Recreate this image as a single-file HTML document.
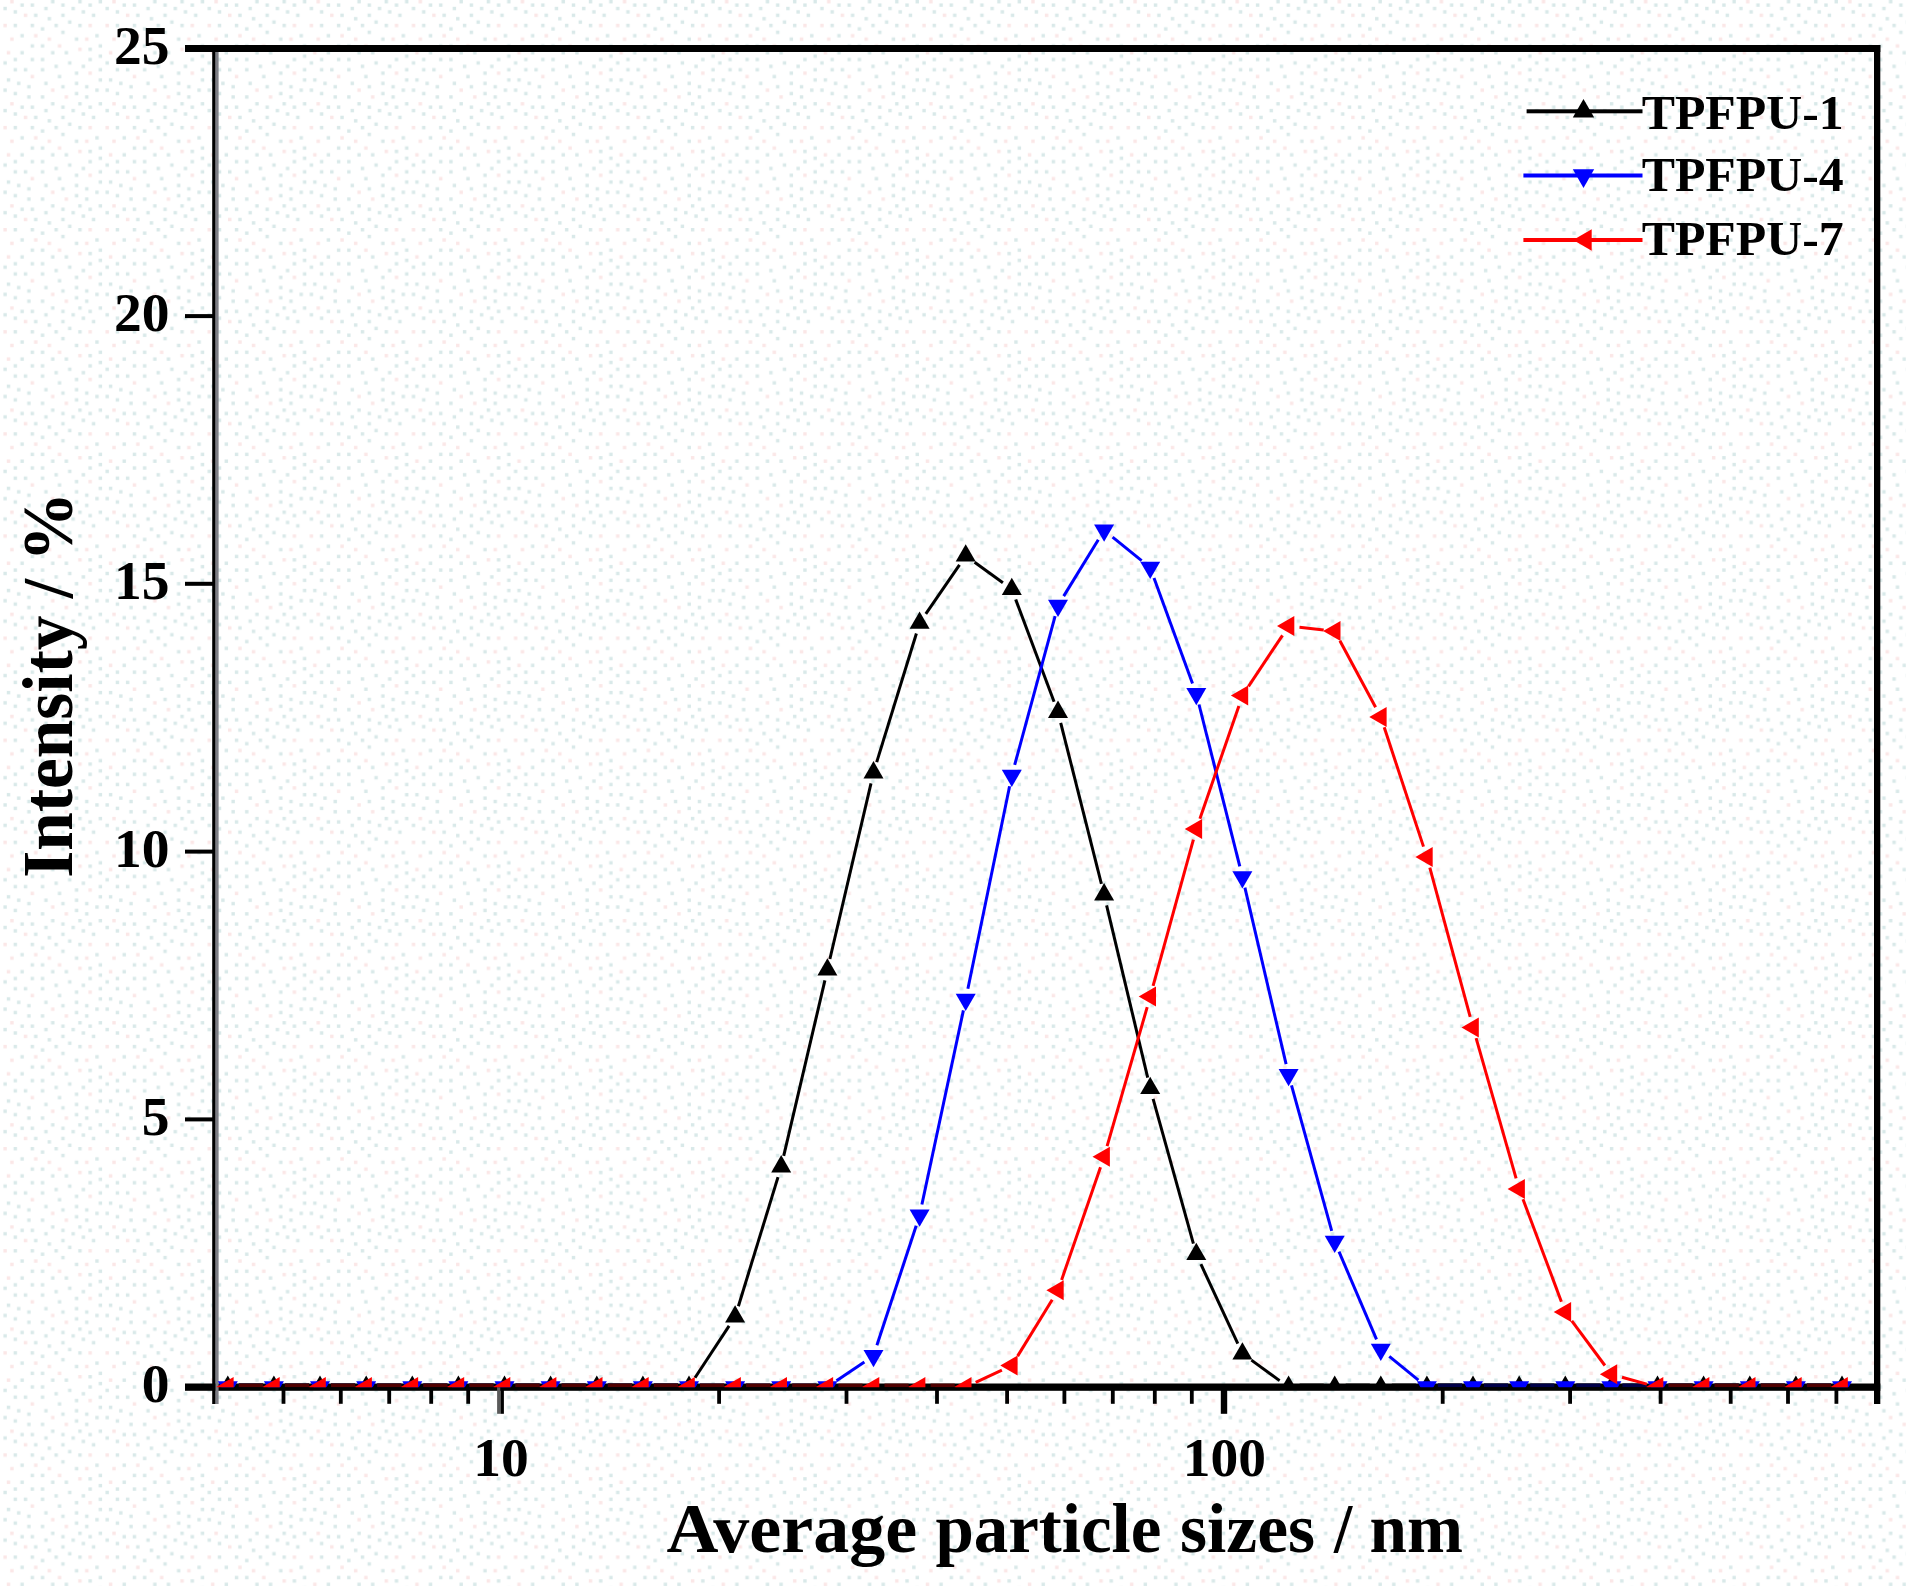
<!DOCTYPE html>
<html><head><meta charset="utf-8"><title>Particle size distribution</title>
<style>html,body{margin:0;padding:0;background:#fcfdfd;}body{width:1906px;height:1586px;overflow:hidden}svg{display:block}</style>
</head><body>
<svg width="1906" height="1586" viewBox="0 0 1906 1586">
<defs><pattern id="dz" width="102.108" height="102.108" patternUnits="userSpaceOnUse"><rect width="102.108" height="102.108" fill="#ffffff"/><rect x="34.04" y="13.61" width="3.40" height="3.40" fill="#d9e9e9"/><rect x="40.84" y="68.07" width="3.40" height="3.40" fill="#d9e9e9"/><rect x="3.40" y="6.81" width="3.40" height="3.40" fill="#d9e9e9"/><rect x="88.49" y="57.86" width="3.40" height="3.40" fill="#d9e9e9"/><rect x="10.21" y="37.44" width="3.40" height="3.40" fill="#fbe7e7"/><rect x="61.26" y="3.40" width="3.40" height="3.40" fill="#d9e9e9"/><rect x="98.70" y="54.46" width="3.40" height="3.40" fill="#d9e9e9"/><rect x="20.42" y="3.40" width="3.40" height="3.40" fill="#d9e9e9"/><rect x="44.25" y="6.81" width="3.40" height="3.40" fill="#d9e9e9"/><rect x="57.86" y="44.25" width="3.40" height="3.40" fill="#fbe7e7"/><rect x="3.40" y="88.49" width="3.40" height="3.40" fill="#d9e9e9"/><rect x="23.83" y="68.07" width="3.40" height="3.40" fill="#d9e9e9"/><rect x="68.07" y="61.26" width="3.40" height="3.40" fill="#d9e9e9"/><rect x="3.40" y="61.26" width="3.40" height="3.40" fill="#d9e9e9"/><rect x="3.40" y="23.83" width="3.40" height="3.40" fill="#fbe7e7"/><rect x="91.90" y="13.61" width="3.40" height="3.40" fill="#d9e9e9"/><rect x="30.63" y="44.25" width="3.40" height="3.40" fill="#d9e9e9"/><rect x="13.61" y="57.86" width="3.40" height="3.40" fill="#d9e9e9"/><rect x="30.63" y="57.86" width="3.40" height="3.40" fill="#d9e9e9"/><rect x="88.49" y="71.48" width="3.40" height="3.40" fill="#fbe7e7"/><rect x="68.07" y="20.42" width="3.40" height="3.40" fill="#d9e9e9"/><rect x="57.86" y="74.88" width="3.40" height="3.40" fill="#d9e9e9"/><rect x="20.42" y="51.05" width="3.40" height="3.40" fill="#d9e9e9"/><rect x="44.25" y="81.69" width="3.40" height="3.40" fill="#d9e9e9"/><rect x="47.65" y="37.44" width="3.40" height="3.40" fill="#fbe7e7"/><rect x="30.63" y="23.83" width="3.40" height="3.40" fill="#d9e9e9"/><rect x="74.88" y="81.69" width="3.40" height="3.40" fill="#d9e9e9"/><rect x="61.26" y="30.63" width="3.40" height="3.40" fill="#d9e9e9"/><rect x="95.30" y="34.04" width="3.40" height="3.40" fill="#d9e9e9"/><rect x="78.28" y="47.65" width="3.40" height="3.40" fill="#fbe7e7"/><rect x="17.02" y="81.69" width="3.40" height="3.40" fill="#d9e9e9"/><rect x="71.48" y="6.81" width="3.40" height="3.40" fill="#d9e9e9"/><rect x="61.26" y="85.09" width="3.40" height="3.40" fill="#d9e9e9"/><rect x="95.30" y="88.49" width="3.40" height="3.40" fill="#d9e9e9"/><rect x="34.04" y="34.04" width="3.40" height="3.40" fill="#fbe7e7"/><rect x="74.88" y="37.44" width="3.40" height="3.40" fill="#d9e9e9"/><rect x="64.67" y="51.05" width="3.40" height="3.40" fill="#d9e9e9"/><rect x="74.88" y="71.48" width="3.40" height="3.40" fill="#d9e9e9"/><rect x="88.49" y="47.65" width="3.40" height="3.40" fill="#d9e9e9"/><rect x="30.63" y="74.88" width="3.40" height="3.40" fill="#fbe7e7"/><rect x="40.84" y="95.30" width="3.40" height="3.40" fill="#d9e9e9"/><rect x="78.28" y="23.83" width="3.40" height="3.40" fill="#d9e9e9"/><rect x="40.84" y="57.86" width="3.40" height="3.40" fill="#d9e9e9"/><rect x="27.23" y="95.30" width="3.40" height="3.40" fill="#d9e9e9"/><rect x="23.83" y="13.61" width="3.40" height="3.40" fill="#fbe7e7"/><rect x="13.61" y="23.83" width="3.40" height="3.40" fill="#d9e9e9"/><rect x="74.88" y="91.90" width="3.40" height="3.40" fill="#d9e9e9"/><rect x="54.46" y="64.67" width="3.40" height="3.40" fill="#d9e9e9"/><rect x="47.65" y="17.02" width="3.40" height="3.40" fill="#d9e9e9"/><rect x="10.21" y="0.00" width="3.40" height="3.40" fill="#fbe7e7"/><rect x="61.26" y="13.61" width="3.40" height="3.40" fill="#d9e9e9"/><rect x="13.61" y="68.07" width="3.40" height="3.40" fill="#d9e9e9"/><rect x="51.05" y="51.05" width="3.40" height="3.40" fill="#d9e9e9"/><rect x="13.61" y="10.21" width="3.40" height="3.40" fill="#d9e9e9"/><rect x="51.05" y="88.49" width="3.40" height="3.40" fill="#fbe7e7"/><rect x="98.70" y="0.00" width="3.40" height="3.40" fill="#d9e9e9"/><rect x="85.09" y="85.09" width="3.40" height="3.40" fill="#d9e9e9"/><rect x="78.28" y="0.00" width="3.40" height="3.40" fill="#d9e9e9"/><rect x="20.42" y="34.04" width="3.40" height="3.40" fill="#d9e9e9"/><rect x="64.67" y="95.30" width="3.40" height="3.40" fill="#fbe7e7"/><rect x="98.70" y="68.07" width="3.40" height="3.40" fill="#d9e9e9"/><rect x="98.70" y="78.28" width="3.40" height="3.40" fill="#d9e9e9"/><rect x="81.69" y="10.21" width="3.40" height="3.40" fill="#d9e9e9"/><rect x="54.46" y="23.83" width="3.40" height="3.40" fill="#d9e9e9"/><rect x="88.49" y="23.83" width="3.40" height="3.40" fill="#fbe7e7"/><rect x="6.81" y="78.28" width="3.40" height="3.40" fill="#d9e9e9"/><rect x="30.63" y="3.40" width="3.40" height="3.40" fill="#d9e9e9"/><rect x="85.09" y="95.30" width="3.40" height="3.40" fill="#d9e9e9"/><rect x="27.23" y="85.09" width="3.40" height="3.40" fill="#d9e9e9"/><rect x="6.81" y="51.05" width="3.40" height="3.40" fill="#fbe7e7"/><rect x="40.84" y="44.25" width="3.40" height="3.40" fill="#d9e9e9"/><rect x="51.05" y="0.00" width="3.40" height="3.40" fill="#d9e9e9"/><rect x="40.84" y="27.23" width="3.40" height="3.40" fill="#d9e9e9"/><rect x="98.70" y="44.25" width="3.40" height="3.40" fill="#d9e9e9"/><rect x="85.09" y="37.44" width="3.40" height="3.40" fill="#fbe7e7"/><rect x="88.49" y="3.40" width="3.40" height="3.40" fill="#d9e9e9"/><rect x="81.69" y="64.67" width="3.40" height="3.40" fill="#d9e9e9"/><rect x="13.61" y="91.90" width="3.40" height="3.40" fill="#d9e9e9"/></pattern></defs>
<rect width="1906" height="1586" fill="url(#dz)"/>
<defs><clipPath id="pc"><rect x="212" y="48" width="1668" height="1339.2"/></clipPath></defs>
<g fill="#000">
<rect x="185" y="45" width="1695.3" height="7"/>
<rect x="185" y="1383.5" width="1695.3" height="7.3"/>
<rect x="212.2" y="45" width="3.5" height="1359"/>
<rect x="215.5" y="52" width="3.1" height="1352" fill="#7c7d84"/>
<rect x="1874" y="45" width="6.3" height="1359"/>
<rect x="185" y="314.1" width="28" height="4"/>
<rect x="185" y="581.8" width="28" height="4"/>
<rect x="185" y="849.6" width="28" height="4"/>
<rect x="185" y="1117.4" width="28" height="4"/>
<rect x="497.1" y="1387" width="3.4" height="26.8" fill="#5a5a5a"/>
<rect x="500.5" y="1387" width="3.4" height="26.8"/>
<rect x="1220.8" y="1387" width="6.4" height="26.8"/>
<rect x="281.6" y="1387" width="3.8" height="16.8"/>
<rect x="338.9" y="1387" width="3.8" height="16.8"/>
<rect x="387.3" y="1387" width="3.8" height="16.8"/>
<rect x="429.3" y="1387" width="3.8" height="16.8"/>
<rect x="466.3" y="1387" width="3.8" height="16.8"/>
<rect x="717.2" y="1387" width="3.8" height="16.8"/>
<rect x="844.6" y="1387" width="3.8" height="16.8"/>
<rect x="935.1" y="1387" width="3.8" height="16.8"/>
<rect x="1005.2" y="1387" width="3.8" height="16.8"/>
<rect x="1062.5" y="1387" width="3.8" height="16.8"/>
<rect x="1110.9" y="1387" width="3.8" height="16.8"/>
<rect x="1152.9" y="1387" width="3.8" height="16.8"/>
<rect x="1189.9" y="1387" width="3.8" height="16.8"/>
<rect x="1440.8" y="1387" width="3.8" height="16.8"/>
<rect x="1568.2" y="1387" width="3.8" height="16.8"/>
<rect x="1658.7" y="1387" width="3.8" height="16.8"/>
<rect x="1728.8" y="1387" width="3.8" height="16.8"/>
<rect x="1786.1" y="1387" width="3.8" height="16.8"/>
<rect x="1834.5" y="1387" width="3.8" height="16.8"/>
</g>
<g clip-path="url(#pc)">
<rect x="238.8" y="1383.6" width="24.1" height="3.6" fill="#000000"/>
<rect x="284.9" y="1383.6" width="24.1" height="3.6" fill="#000000"/>
<rect x="331.0" y="1383.6" width="24.1" height="3.6" fill="#000000"/>
<rect x="377.2" y="1383.6" width="24.1" height="3.6" fill="#000000"/>
<rect x="423.3" y="1383.6" width="24.1" height="3.6" fill="#000000"/>
<rect x="469.4" y="1383.6" width="24.1" height="3.6" fill="#000000"/>
<rect x="515.5" y="1383.6" width="24.1" height="3.6" fill="#000000"/>
<rect x="561.6" y="1383.6" width="24.1" height="3.6" fill="#000000"/>
<rect x="607.8" y="1383.6" width="24.1" height="3.6" fill="#000000"/>
<rect x="653.9" y="1383.6" width="24.1" height="3.6" fill="#000000"/>
<line x1="695.0" y1="1377.8" x2="729.1" y2="1325.9" stroke="#000000" stroke-width="3.0"/>
<line x1="738.4" y1="1306.2" x2="778.0" y2="1177.1" stroke="#000000" stroke-width="3.0"/>
<line x1="783.7" y1="1155.9" x2="824.9" y2="980.4" stroke="#000000" stroke-width="3.0"/>
<line x1="829.9" y1="959.0" x2="871.0" y2="783.3" stroke="#000000" stroke-width="3.0"/>
<line x1="876.7" y1="762.1" x2="916.4" y2="633.5" stroke="#000000" stroke-width="3.0"/>
<line x1="925.8" y1="613.9" x2="959.5" y2="564.8" stroke="#000000" stroke-width="3.0"/>
<line x1="974.6" y1="562.2" x2="1002.9" y2="582.7" stroke="#000000" stroke-width="3.0"/>
<line x1="1015.7" y1="599.5" x2="1054.1" y2="701.8" stroke="#000000" stroke-width="3.0"/>
<line x1="1060.7" y1="722.8" x2="1101.4" y2="883.9" stroke="#000000" stroke-width="3.0"/>
<line x1="1106.6" y1="905.3" x2="1147.7" y2="1077.6" stroke="#000000" stroke-width="3.0"/>
<line x1="1153.1" y1="1098.9" x2="1193.4" y2="1243.6" stroke="#000000" stroke-width="3.0"/>
<line x1="1200.9" y1="1264.2" x2="1237.8" y2="1343.7" stroke="#000000" stroke-width="3.0"/>
<line x1="1251.4" y1="1360.1" x2="1279.6" y2="1380.6" stroke="#000000" stroke-width="3.0"/>
<rect x="1299.6" y="1383.6" width="24.1" height="3.6" fill="#000000"/>
<rect x="1345.7" y="1383.6" width="24.1" height="3.6" fill="#000000"/>
<rect x="1391.8" y="1383.6" width="24.1" height="3.6" fill="#000000"/>
<rect x="1437.9" y="1383.6" width="24.1" height="3.6" fill="#000000"/>
<rect x="1484.0" y="1383.6" width="24.1" height="3.6" fill="#000000"/>
<rect x="1530.2" y="1383.6" width="24.1" height="3.6" fill="#000000"/>
<rect x="1576.3" y="1383.6" width="24.1" height="3.6" fill="#000000"/>
<rect x="1622.4" y="1383.6" width="24.1" height="3.6" fill="#000000"/>
<rect x="1668.5" y="1383.6" width="24.1" height="3.6" fill="#000000"/>
<rect x="1714.6" y="1383.6" width="24.1" height="3.6" fill="#000000"/>
<rect x="1760.8" y="1383.6" width="24.1" height="3.6" fill="#000000"/>
<rect x="1806.9" y="1383.6" width="24.1" height="3.6" fill="#000000"/>
<polygon points="227.8,1375.5 217.8,1392.8 237.8,1392.8" fill="#000000"/>
<polygon points="273.9,1375.5 263.9,1392.8 283.9,1392.8" fill="#000000"/>
<polygon points="320.0,1375.5 310.0,1392.8 330.0,1392.8" fill="#000000"/>
<polygon points="366.2,1375.5 356.2,1392.8 376.2,1392.8" fill="#000000"/>
<polygon points="412.3,1375.5 402.3,1392.8 422.3,1392.8" fill="#000000"/>
<polygon points="458.4,1375.5 448.4,1392.8 468.4,1392.8" fill="#000000"/>
<polygon points="504.5,1375.5 494.5,1392.8 514.5,1392.8" fill="#000000"/>
<polygon points="550.6,1375.5 540.6,1392.8 560.6,1392.8" fill="#000000"/>
<polygon points="596.8,1375.5 586.8,1392.8 606.8,1392.8" fill="#000000"/>
<polygon points="642.9,1375.5 632.9,1392.8 652.9,1392.8" fill="#000000"/>
<polygon points="689.0,1375.5 679.0,1392.8 699.0,1392.8" fill="#000000"/>
<polygon points="735.1,1305.2 725.1,1322.5 745.1,1322.5" fill="#000000"/>
<polygon points="781.2,1155.1 771.2,1172.4 791.2,1172.4" fill="#000000"/>
<polygon points="827.4,958.2 817.4,975.5 837.4,975.5" fill="#000000"/>
<polygon points="873.5,761.1 863.5,778.4 883.5,778.4" fill="#000000"/>
<polygon points="919.6,611.5 909.6,628.8 929.6,628.8" fill="#000000"/>
<polygon points="965.7,544.2 955.7,561.5 975.7,561.5" fill="#000000"/>
<polygon points="1011.8,577.7 1001.8,595.0 1021.8,595.0" fill="#000000"/>
<polygon points="1058.0,700.6 1048.0,717.9 1068.0,717.9" fill="#000000"/>
<polygon points="1104.1,883.1 1094.1,900.4 1114.1,900.4" fill="#000000"/>
<polygon points="1150.2,1076.8 1140.2,1094.1 1160.2,1094.1" fill="#000000"/>
<polygon points="1196.3,1242.7 1186.3,1260.0 1206.3,1260.0" fill="#000000"/>
<polygon points="1242.4,1342.2 1232.4,1359.5 1252.4,1359.5" fill="#000000"/>
<polygon points="1288.6,1375.5 1278.6,1392.8 1298.6,1392.8" fill="#000000"/>
<polygon points="1334.7,1375.5 1324.7,1392.8 1344.7,1392.8" fill="#000000"/>
<polygon points="1380.8,1375.5 1370.8,1392.8 1390.8,1392.8" fill="#000000"/>
<polygon points="1426.9,1375.5 1416.9,1392.8 1436.9,1392.8" fill="#000000"/>
<polygon points="1473.0,1375.5 1463.0,1392.8 1483.0,1392.8" fill="#000000"/>
<polygon points="1519.2,1375.5 1509.2,1392.8 1529.2,1392.8" fill="#000000"/>
<polygon points="1565.3,1375.5 1555.3,1392.8 1575.3,1392.8" fill="#000000"/>
<polygon points="1611.4,1375.5 1601.4,1392.8 1621.4,1392.8" fill="#000000"/>
<polygon points="1657.5,1375.5 1647.5,1392.8 1667.5,1392.8" fill="#000000"/>
<polygon points="1703.6,1375.5 1693.6,1392.8 1713.6,1392.8" fill="#000000"/>
<polygon points="1749.8,1375.5 1739.8,1392.8 1759.8,1392.8" fill="#000000"/>
<polygon points="1795.9,1375.5 1785.9,1392.8 1805.9,1392.8" fill="#000000"/>
<polygon points="1842.0,1375.5 1832.0,1392.8 1852.0,1392.8" fill="#000000"/>
<rect x="238.8" y="1383.6" width="24.1" height="3.6" fill="#000048"/>
<rect x="284.9" y="1383.6" width="24.1" height="3.6" fill="#000048"/>
<rect x="331.0" y="1383.6" width="24.1" height="3.6" fill="#000048"/>
<rect x="377.2" y="1383.6" width="24.1" height="3.6" fill="#000048"/>
<rect x="423.3" y="1383.6" width="24.1" height="3.6" fill="#000048"/>
<rect x="469.4" y="1383.6" width="24.1" height="3.6" fill="#000048"/>
<rect x="515.5" y="1383.6" width="24.1" height="3.6" fill="#000048"/>
<rect x="561.6" y="1383.6" width="24.1" height="3.6" fill="#000048"/>
<rect x="607.8" y="1383.6" width="24.1" height="3.6" fill="#000048"/>
<rect x="653.9" y="1383.6" width="24.1" height="3.6" fill="#000048"/>
<rect x="700.0" y="1383.6" width="24.1" height="3.6" fill="#000048"/>
<rect x="746.1" y="1383.6" width="24.1" height="3.6" fill="#000048"/>
<rect x="792.2" y="1383.6" width="24.1" height="3.6" fill="#000048"/>
<line x1="836.5" y1="1380.8" x2="864.4" y2="1362.0" stroke="#0000ff" stroke-width="3.0"/>
<line x1="876.9" y1="1345.3" x2="916.2" y2="1225.8" stroke="#0000ff" stroke-width="3.0"/>
<line x1="921.9" y1="1204.5" x2="963.4" y2="1010.4" stroke="#0000ff" stroke-width="3.0"/>
<line x1="967.9" y1="988.8" x2="1009.6" y2="786.3" stroke="#0000ff" stroke-width="3.0"/>
<line x1="1014.7" y1="764.9" x2="1055.1" y2="616.1" stroke="#0000ff" stroke-width="3.0"/>
<line x1="1063.7" y1="596.1" x2="1098.3" y2="539.7" stroke="#0000ff" stroke-width="3.0"/>
<line x1="1112.6" y1="537.2" x2="1141.6" y2="560.7" stroke="#0000ff" stroke-width="3.0"/>
<line x1="1154.0" y1="577.9" x2="1192.5" y2="683.5" stroke="#0000ff" stroke-width="3.0"/>
<line x1="1199.0" y1="704.5" x2="1239.8" y2="866.3" stroke="#0000ff" stroke-width="3.0"/>
<line x1="1244.9" y1="887.7" x2="1286.1" y2="1064.1" stroke="#0000ff" stroke-width="3.0"/>
<line x1="1291.5" y1="1085.4" x2="1331.7" y2="1230.9" stroke="#0000ff" stroke-width="3.0"/>
<line x1="1339.0" y1="1251.6" x2="1376.5" y2="1339.4" stroke="#0000ff" stroke-width="3.0"/>
<line x1="1389.3" y1="1356.4" x2="1418.4" y2="1380.1" stroke="#0000ff" stroke-width="3.0"/>
<rect x="1437.9" y="1383.6" width="24.1" height="3.6" fill="#000048"/>
<rect x="1484.0" y="1383.6" width="24.1" height="3.6" fill="#000048"/>
<rect x="1530.2" y="1383.6" width="24.1" height="3.6" fill="#000048"/>
<rect x="1576.3" y="1383.6" width="24.1" height="3.6" fill="#000048"/>
<rect x="1622.4" y="1383.6" width="24.1" height="3.6" fill="#000048"/>
<rect x="1668.5" y="1383.6" width="24.1" height="3.6" fill="#000048"/>
<rect x="1714.6" y="1383.6" width="24.1" height="3.6" fill="#000048"/>
<rect x="1760.8" y="1383.6" width="24.1" height="3.6" fill="#000048"/>
<rect x="1806.9" y="1383.6" width="24.1" height="3.6" fill="#000048"/>
<polygon points="227.8,1398.5 217.8,1381.2 237.8,1381.2" fill="#0000ff"/>
<polygon points="273.9,1398.5 263.9,1381.2 283.9,1381.2" fill="#0000ff"/>
<polygon points="320.0,1398.5 310.0,1381.2 330.0,1381.2" fill="#0000ff"/>
<polygon points="366.2,1398.5 356.2,1381.2 376.2,1381.2" fill="#0000ff"/>
<polygon points="412.3,1398.5 402.3,1381.2 422.3,1381.2" fill="#0000ff"/>
<polygon points="458.4,1398.5 448.4,1381.2 468.4,1381.2" fill="#0000ff"/>
<polygon points="504.5,1398.5 494.5,1381.2 514.5,1381.2" fill="#0000ff"/>
<polygon points="550.6,1398.5 540.6,1381.2 560.6,1381.2" fill="#0000ff"/>
<polygon points="596.8,1398.5 586.8,1381.2 606.8,1381.2" fill="#0000ff"/>
<polygon points="642.9,1398.5 632.9,1381.2 652.9,1381.2" fill="#0000ff"/>
<polygon points="689.0,1398.5 679.0,1381.2 699.0,1381.2" fill="#0000ff"/>
<polygon points="735.1,1398.5 725.1,1381.2 745.1,1381.2" fill="#0000ff"/>
<polygon points="781.2,1398.5 771.2,1381.2 791.2,1381.2" fill="#0000ff"/>
<polygon points="827.4,1398.5 817.4,1381.2 837.4,1381.2" fill="#0000ff"/>
<polygon points="873.5,1367.3 863.5,1350.0 883.5,1350.0" fill="#0000ff"/>
<polygon points="919.6,1226.8 909.6,1209.5 929.6,1209.5" fill="#0000ff"/>
<polygon points="965.7,1011.1 955.7,993.8 975.7,993.8" fill="#0000ff"/>
<polygon points="1011.8,787.0 1001.8,769.7 1021.8,769.7" fill="#0000ff"/>
<polygon points="1058.0,617.0 1048.0,599.7 1068.0,599.7" fill="#0000ff"/>
<polygon points="1104.1,541.8 1094.1,524.5 1114.1,524.5" fill="#0000ff"/>
<polygon points="1150.2,579.1 1140.2,561.8 1160.2,561.8" fill="#0000ff"/>
<polygon points="1196.3,705.3 1186.3,688.0 1206.3,688.0" fill="#0000ff"/>
<polygon points="1242.4,888.5 1232.4,871.2 1252.4,871.2" fill="#0000ff"/>
<polygon points="1288.6,1086.3 1278.6,1069.0 1298.6,1069.0" fill="#0000ff"/>
<polygon points="1334.7,1253.0 1324.7,1235.7 1344.7,1235.7" fill="#0000ff"/>
<polygon points="1380.8,1361.0 1370.8,1343.7 1390.8,1343.7" fill="#0000ff"/>
<polygon points="1426.9,1398.5 1416.9,1381.2 1436.9,1381.2" fill="#0000ff"/>
<polygon points="1473.0,1398.5 1463.0,1381.2 1483.0,1381.2" fill="#0000ff"/>
<polygon points="1519.2,1398.5 1509.2,1381.2 1529.2,1381.2" fill="#0000ff"/>
<polygon points="1565.3,1398.5 1555.3,1381.2 1575.3,1381.2" fill="#0000ff"/>
<polygon points="1611.4,1398.5 1601.4,1381.2 1621.4,1381.2" fill="#0000ff"/>
<polygon points="1657.5,1398.5 1647.5,1381.2 1667.5,1381.2" fill="#0000ff"/>
<polygon points="1703.6,1398.5 1693.6,1381.2 1713.6,1381.2" fill="#0000ff"/>
<polygon points="1749.8,1398.5 1739.8,1381.2 1759.8,1381.2" fill="#0000ff"/>
<polygon points="1795.9,1398.5 1785.9,1381.2 1805.9,1381.2" fill="#0000ff"/>
<polygon points="1842.0,1398.5 1832.0,1381.2 1852.0,1381.2" fill="#0000ff"/>
<rect x="238.8" y="1383.6" width="24.1" height="3.6" fill="#500000"/>
<rect x="284.9" y="1383.6" width="24.1" height="3.6" fill="#500000"/>
<rect x="331.0" y="1383.6" width="24.1" height="3.6" fill="#500000"/>
<rect x="377.2" y="1383.6" width="24.1" height="3.6" fill="#500000"/>
<rect x="423.3" y="1383.6" width="24.1" height="3.6" fill="#500000"/>
<rect x="469.4" y="1383.6" width="24.1" height="3.6" fill="#500000"/>
<rect x="515.5" y="1383.6" width="24.1" height="3.6" fill="#500000"/>
<rect x="561.6" y="1383.6" width="24.1" height="3.6" fill="#500000"/>
<rect x="607.8" y="1383.6" width="24.1" height="3.6" fill="#500000"/>
<rect x="653.9" y="1383.6" width="24.1" height="3.6" fill="#500000"/>
<rect x="700.0" y="1383.6" width="24.1" height="3.6" fill="#500000"/>
<rect x="746.1" y="1383.6" width="24.1" height="3.6" fill="#500000"/>
<rect x="792.2" y="1383.6" width="24.1" height="3.6" fill="#500000"/>
<rect x="838.4" y="1383.6" width="24.1" height="3.6" fill="#500000"/>
<rect x="884.5" y="1383.6" width="24.1" height="3.6" fill="#500000"/>
<rect x="930.6" y="1383.6" width="24.1" height="3.6" fill="#500000"/>
<line x1="975.7" y1="1382.4" x2="1001.9" y2="1370.1" stroke="#ff0000" stroke-width="3.0"/>
<line x1="1017.6" y1="1356.1" x2="1052.2" y2="1299.7" stroke="#ff0000" stroke-width="3.0"/>
<line x1="1061.6" y1="1279.9" x2="1100.5" y2="1167.2" stroke="#ff0000" stroke-width="3.0"/>
<line x1="1107.1" y1="1146.2" x2="1147.2" y2="1007.1" stroke="#ff0000" stroke-width="3.0"/>
<line x1="1153.1" y1="985.9" x2="1193.4" y2="839.7" stroke="#ff0000" stroke-width="3.0"/>
<line x1="1199.9" y1="818.7" x2="1238.9" y2="705.9" stroke="#ff0000" stroke-width="3.0"/>
<line x1="1248.5" y1="686.3" x2="1282.5" y2="635.3" stroke="#ff0000" stroke-width="3.0"/>
<line x1="1299.5" y1="627.3" x2="1323.7" y2="629.9" stroke="#ff0000" stroke-width="3.0"/>
<line x1="1339.9" y1="640.8" x2="1375.6" y2="707.2" stroke="#ff0000" stroke-width="3.0"/>
<line x1="1384.2" y1="727.3" x2="1423.5" y2="846.6" stroke="#ff0000" stroke-width="3.0"/>
<line x1="1429.8" y1="867.6" x2="1470.2" y2="1016.9" stroke="#ff0000" stroke-width="3.0"/>
<line x1="1476.1" y1="1038.1" x2="1516.1" y2="1178.4" stroke="#ff0000" stroke-width="3.0"/>
<line x1="1523.0" y1="1199.3" x2="1561.4" y2="1301.7" stroke="#ff0000" stroke-width="3.0"/>
<line x1="1571.8" y1="1320.8" x2="1604.9" y2="1365.5" stroke="#ff0000" stroke-width="3.0"/>
<line x1="1622.0" y1="1377.2" x2="1646.9" y2="1384.1" stroke="#ff0000" stroke-width="3.0"/>
<rect x="1668.5" y="1383.6" width="24.1" height="3.6" fill="#500000"/>
<rect x="1714.6" y="1383.6" width="24.1" height="3.6" fill="#500000"/>
<rect x="1760.8" y="1383.6" width="24.1" height="3.6" fill="#500000"/>
<rect x="1806.9" y="1383.6" width="24.1" height="3.6" fill="#500000"/>
<polygon points="216.3,1387.0 233.6,1377.0 233.6,1397.0" fill="#ff0000"/>
<polygon points="262.4,1387.0 279.7,1377.0 279.7,1397.0" fill="#ff0000"/>
<polygon points="308.5,1387.0 325.8,1377.0 325.8,1397.0" fill="#ff0000"/>
<polygon points="354.6,1387.0 371.9,1377.0 371.9,1397.0" fill="#ff0000"/>
<polygon points="400.7,1387.0 418.1,1377.0 418.1,1397.0" fill="#ff0000"/>
<polygon points="446.9,1387.0 464.2,1377.0 464.2,1397.0" fill="#ff0000"/>
<polygon points="493.0,1387.0 510.3,1377.0 510.3,1397.0" fill="#ff0000"/>
<polygon points="539.1,1387.0 556.4,1377.0 556.4,1397.0" fill="#ff0000"/>
<polygon points="585.2,1387.0 602.5,1377.0 602.5,1397.0" fill="#ff0000"/>
<polygon points="631.3,1387.0 648.7,1377.0 648.7,1397.0" fill="#ff0000"/>
<polygon points="677.5,1387.0 694.8,1377.0 694.8,1397.0" fill="#ff0000"/>
<polygon points="723.6,1387.0 740.9,1377.0 740.9,1397.0" fill="#ff0000"/>
<polygon points="769.7,1387.0 787.0,1377.0 787.0,1397.0" fill="#ff0000"/>
<polygon points="815.8,1387.0 833.1,1377.0 833.1,1397.0" fill="#ff0000"/>
<polygon points="861.9,1387.0 879.3,1377.0 879.3,1397.0" fill="#ff0000"/>
<polygon points="908.1,1387.0 925.4,1377.0 925.4,1397.0" fill="#ff0000"/>
<polygon points="954.2,1387.0 971.5,1377.0 971.5,1397.0" fill="#ff0000"/>
<polygon points="1000.3,1365.5 1017.6,1355.5 1017.6,1375.5" fill="#ff0000"/>
<polygon points="1046.4,1290.3 1063.7,1280.3 1063.7,1300.3" fill="#ff0000"/>
<polygon points="1092.5,1156.8 1109.9,1146.8 1109.9,1166.8" fill="#ff0000"/>
<polygon points="1138.7,996.5 1156.0,986.5 1156.0,1006.5" fill="#ff0000"/>
<polygon points="1184.8,829.1 1202.1,819.1 1202.1,839.1" fill="#ff0000"/>
<polygon points="1230.9,695.5 1248.2,685.5 1248.2,705.5" fill="#ff0000"/>
<polygon points="1277.0,626.1 1294.3,616.1 1294.3,636.1" fill="#ff0000"/>
<polygon points="1323.1,631.1 1340.5,621.1 1340.5,641.1" fill="#ff0000"/>
<polygon points="1369.3,716.9 1386.6,706.9 1386.6,726.9" fill="#ff0000"/>
<polygon points="1415.4,857.0 1432.7,847.0 1432.7,867.0" fill="#ff0000"/>
<polygon points="1461.5,1027.5 1478.8,1017.5 1478.8,1037.5" fill="#ff0000"/>
<polygon points="1507.6,1189.0 1524.9,1179.0 1524.9,1199.0" fill="#ff0000"/>
<polygon points="1553.7,1312.0 1571.1,1302.0 1571.1,1322.0" fill="#ff0000"/>
<polygon points="1599.9,1374.3 1617.2,1364.3 1617.2,1384.3" fill="#ff0000"/>
<polygon points="1646.0,1387.0 1663.3,1377.0 1663.3,1397.0" fill="#ff0000"/>
<polygon points="1692.1,1387.0 1709.4,1377.0 1709.4,1397.0" fill="#ff0000"/>
<polygon points="1738.2,1387.0 1755.5,1377.0 1755.5,1397.0" fill="#ff0000"/>
<polygon points="1784.3,1387.0 1801.7,1377.0 1801.7,1397.0" fill="#ff0000"/>
<polygon points="1830.5,1387.0 1847.8,1377.0 1847.8,1397.0" fill="#ff0000"/>
</g>
<text x="169.5" y="63.8" font-size="55.5" text-anchor="end" font-family="Liberation Serif, Times New Roman, serif" font-weight="bold" fill="#000">25</text>
<text x="169.5" y="331.3" font-size="55.5" text-anchor="end" font-family="Liberation Serif, Times New Roman, serif" font-weight="bold" fill="#000">20</text>
<text x="169.5" y="599.0" font-size="55.5" text-anchor="end" font-family="Liberation Serif, Times New Roman, serif" font-weight="bold" fill="#000">15</text>
<text x="169.5" y="866.8" font-size="55.5" text-anchor="end" font-family="Liberation Serif, Times New Roman, serif" font-weight="bold" fill="#000">10</text>
<text x="169.5" y="1134.6" font-size="55.5" text-anchor="end" font-family="Liberation Serif, Times New Roman, serif" font-weight="bold" fill="#000">5</text>
<text x="169.5" y="1402.3" font-size="55.5" text-anchor="end" font-family="Liberation Serif, Times New Roman, serif" font-weight="bold" fill="#000">0</text>
<text x="473.3" y="1475.8" font-size="55.5" font-family="Liberation Serif, Times New Roman, serif" font-weight="bold" fill="#000">10</text>
<text x="1182.8" y="1475.8" font-size="55.5" font-family="Liberation Serif, Times New Roman, serif" font-weight="bold" fill="#000">100</text>
<text y="1552.3" font-size="70" font-family="Liberation Serif, Times New Roman, serif" font-weight="bold" fill="#000"><tspan x="666.6" textLength="250.5" lengthAdjust="spacingAndGlyphs">Average</tspan> <tspan x="935.4" textLength="225.9" lengthAdjust="spacingAndGlyphs">particle</tspan> <tspan x="1180" textLength="135" lengthAdjust="spacingAndGlyphs">sizes</tspan> <tspan x="1334" textLength="18.3" lengthAdjust="spacingAndGlyphs">/</tspan> <tspan x="1369.5" textLength="93.4" lengthAdjust="spacingAndGlyphs">nm</tspan></text>
<text transform="translate(72,877.7) rotate(-90)" font-size="71" textLength="385.5" lengthAdjust="spacingAndGlyphs" font-family="Liberation Serif, Times New Roman, serif" font-weight="bold" fill="#000">Intensity / %</text>
<rect x="1526.6" y="109.3" width="115.9" height="4" fill="#000"/>
<polygon points="1583.5,98.9 1572.8,117.5 1594.2,117.5" fill="#000"/>
<text x="1641.7" y="128.6" font-size="48.5" textLength="202" lengthAdjust="spacingAndGlyphs" font-family="Liberation Serif, Times New Roman, serif" font-weight="bold" fill="#000">TPFPU-1</text>
<rect x="1523.4" y="173.5" width="119.1" height="4" fill="#0000ff"/>
<polygon points="1583.5,187.9 1572.8,169.3 1594.2,169.3" fill="#0000ff"/>
<text x="1641.7" y="190.6" font-size="48.5" textLength="202" lengthAdjust="spacingAndGlyphs" font-family="Liberation Serif, Times New Roman, serif" font-weight="bold" fill="#000">TPFPU-4</text>
<rect x="1523.4" y="238.0" width="119.1" height="4" fill="#ff0000"/>
<polygon points="1573.1,240.0 1591.7,229.2 1591.7,250.8" fill="#ff0000"/>
<text x="1641.7" y="255.0" font-size="48.5" textLength="202" lengthAdjust="spacingAndGlyphs" font-family="Liberation Serif, Times New Roman, serif" font-weight="bold" fill="#000">TPFPU-7</text>
</svg>
</body></html>
